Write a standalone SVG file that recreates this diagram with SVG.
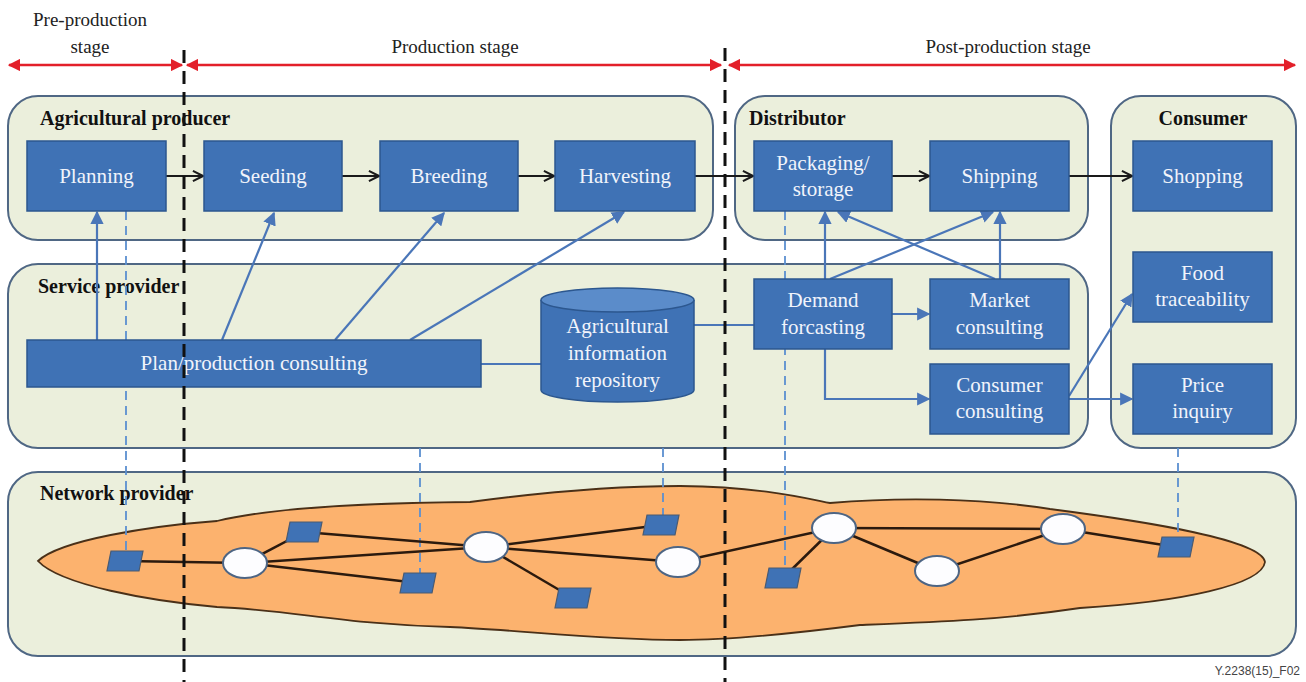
<svg xmlns="http://www.w3.org/2000/svg" width="1306" height="682" viewBox="0 0 1306 682">
  <style>
    .lane { fill: #ebefdc; stroke: #4f6784; stroke-width: 2; }
    .lane-title { font-family: 'Liberation Serif', 'DejaVu Serif', serif; font-size: 20px; font-weight: bold; fill: #111; }
    .box { fill: #3f72b5; stroke: #2c578f; stroke-width: 1.5; }
    .box-text { font-family: 'Times New Roman', 'Liberation Serif', Times, 'Nimbus Roman', 'FreeSerif', serif; font-size: 21px; fill: #f1f4fb; text-anchor: middle; }
    .stage-text { font-family: 'Times New Roman', 'Liberation Serif', Times, 'Nimbus Roman', 'FreeSerif', serif; font-size: 19px; fill: #222; text-anchor: middle; }
    .flow { stroke: #1a1a1a; stroke-width: 1.8; fill: none; marker-end: url(#arrowBlack); }
    .svc { stroke: #4a76b8; stroke-width: 2.2; fill: none; }
    .svc-arrow { marker-end: url(#arrowBlue); }
    .stage { stroke: #e3202a; stroke-width: 2.5; fill: none; marker-start: url(#arrowRed); marker-end: url(#arrowRed); }
    .divider { stroke: #111; stroke-width: 3; stroke-dasharray: 13 8; fill: none; }
    .tap { stroke: #5b8fd0; stroke-width: 1.8; stroke-dasharray: 9 6; fill: none; }
    .link { stroke: #2b1a0e; stroke-width: 2.5; fill: none; }
    .router { fill: #fdfdff; stroke: #4d6584; stroke-width: 2; }
    .host { fill: #3f72b5; stroke: #4a5a70; stroke-width: 1.2; }
  </style>
  <defs>
    <marker id="arrowRed" viewBox="0 0 10 10" refX="9" refY="5" markerWidth="5" markerHeight="5" orient="auto-start-reverse">
      <path d="M0,0 L10,5 L0,10 z" fill="#e3202a"/>
    </marker>
    <marker id="arrowBlue" viewBox="0 0 10 10" refX="9" refY="5" markerWidth="6" markerHeight="6" orient="auto">
      <path d="M0,0 L10,5 L0,10 z" fill="#4a76b8"/>
    </marker>
    <marker id="arrowBlack" viewBox="0 0 10 10" refX="9" refY="5" markerWidth="7" markerHeight="7" orient="auto">
      <path d="M1,1 L9,5 L1,9" fill="none" stroke="#1a1a1a" stroke-width="1.6"/>
    </marker>
  </defs>

  <rect width="1306" height="682" fill="#ffffff"/>

  <!-- stage bar -->
  <g id="stages">
    <text class="stage-text" x="90" y="26">Pre-production</text>
    <text class="stage-text" x="90" y="53">stage</text>
    <text class="stage-text" x="455" y="53">Production stage</text>
    <text class="stage-text" x="1008" y="53">Post-production stage</text>
    <line class="stage" x1="9" y1="65" x2="182" y2="65"/>
    <line class="stage" x1="187" y1="65" x2="721" y2="65"/>
    <line class="stage" x1="729" y1="65" x2="1295" y2="65"/>
  </g>

  <!-- swimlanes -->
  <g id="lane-producer">
    <rect class="lane" x="8" y="96" width="705" height="144" rx="30"/>
    <text class="lane-title" x="40" y="125">Agricultural producer</text>
  </g>
  <g id="lane-distributor">
    <rect class="lane" x="735" y="96" width="353" height="144" rx="30"/>
    <text class="lane-title" x="749" y="125">Distributor</text>
  </g>
  <g id="lane-consumer">
    <rect class="lane" x="1111" y="96" width="185" height="352" rx="30"/>
    <text class="lane-title" x="1203" y="125" text-anchor="middle">Consumer</text>
  </g>
  <g id="lane-service">
    <rect class="lane" x="8" y="264" width="1080" height="184" rx="30"/>
    <text class="lane-title" x="38" y="293">Service provider</text>
  </g>
  <g id="lane-network">
    <rect class="lane" x="8" y="472" width="1288" height="184" rx="30"/>
    <text class="lane-title" x="40" y="500">Network provider</text>
  </g>

  <!-- network cloud -->
  <g id="network-cloud">
    <path d="M38,561 C60,540 150,526 217,521 C270,508 360,503 470,502 C560,490 620,486 680,486 C760,487 800,497 830,503 C900,497 980,498 1050,509 C1150,522 1262,540 1265,562 C1262,585 1180,602 1080,608 C1000,620 940,622 860,625 C790,634 730,640 680,640 C600,640 520,630 450,627 C350,625 290,610 217,607 C150,601 60,585 38,561 Z" fill="#fcb26e" stroke="#4a3018" stroke-width="1.8"/>
  </g>

  <!-- connectors -->
  <g id="connectors">
    <!-- access taps from services down to the network -->
    <line class="tap" x1="126" y1="211" x2="126" y2="552"/>
    <line class="tap" x1="420" y1="448" x2="420" y2="574"/>
    <line class="tap" x1="663" y1="448" x2="663" y2="516"/>
    <line class="tap" x1="785" y1="211" x2="785" y2="569"/>
    <line class="tap" x1="1178" y1="448" x2="1178" y2="538"/>

    <!-- network links -->
    <line class="link" x1="125" y1="561" x2="245" y2="563"/>
    <line class="link" x1="245" y1="563" x2="304" y2="532"/>
    <line class="link" x1="245" y1="563" x2="486" y2="547"/>
    <line class="link" x1="245" y1="563" x2="418" y2="583"/>
    <line class="link" x1="304" y1="532" x2="486" y2="547"/>
    <line class="link" x1="486" y1="547" x2="661" y2="525"/>
    <line class="link" x1="486" y1="547" x2="678" y2="562"/>
    <line class="link" x1="486" y1="547" x2="573" y2="598"/>
    <line class="link" x1="678" y1="562" x2="834" y2="528"/>
    <line class="link" x1="834" y1="528" x2="783" y2="578"/>
    <line class="link" x1="834" y1="528" x2="1063" y2="529"/>
    <line class="link" x1="834" y1="528" x2="937" y2="571"/>
    <line class="link" x1="937" y1="571" x2="1063" y2="529"/>
    <line class="link" x1="1063" y1="529" x2="1176" y2="547"/>

    <!-- value chain flow -->
    <line class="flow" x1="166" y1="176" x2="203" y2="176"/>
    <line class="flow" x1="342" y1="176" x2="379" y2="176"/>
    <line class="flow" x1="518" y1="176" x2="554" y2="176"/>
    <line class="flow" x1="695" y1="176" x2="753" y2="176"/>
    <line class="flow" x1="892" y1="176" x2="929" y2="176"/>
    <line class="flow" x1="1069" y1="176" x2="1132" y2="176"/>

    <!-- service support -->
    <line class="svc svc-arrow" x1="97" y1="340" x2="97" y2="212"/>
    <line class="svc svc-arrow" x1="222" y1="340" x2="274" y2="213"/>
    <line class="svc svc-arrow" x1="335" y1="340" x2="444" y2="213"/>
    <line class="svc svc-arrow" x1="410" y1="340" x2="624" y2="212"/>
    <line class="svc" x1="481" y1="364" x2="541" y2="364"/>
    <line class="svc" x1="694" y1="325" x2="754" y2="325"/>
    <line class="svc svc-arrow" x1="825" y1="279" x2="825" y2="212"/>
    <line class="svc svc-arrow" x1="830" y1="279" x2="993" y2="212"/>
    <line class="svc svc-arrow" x1="995" y1="279" x2="838" y2="212"/>
    <line class="svc svc-arrow" x1="1000" y1="279" x2="1000" y2="212"/>
    <line class="svc svc-arrow" x1="892" y1="314" x2="929" y2="314"/>
    <polyline class="svc svc-arrow" points="825,349 825,399 929,399"/>
    <line class="svc svc-arrow" x1="1069" y1="396" x2="1132" y2="294"/>
    <line class="svc svc-arrow" x1="1069" y1="399" x2="1132" y2="399"/>
  </g>

  <!-- producer activities -->
  <g id="planning">
    <rect class="box" x="27" y="141" width="139" height="70"/>
    <text class="box-text" x="96.5" y="183">Planning</text>
  </g>
  <g id="seeding">
    <rect class="box" x="204" y="141" width="138" height="70"/>
    <text class="box-text" x="273" y="183">Seeding</text>
  </g>
  <g id="breeding">
    <rect class="box" x="380" y="141" width="138" height="70"/>
    <text class="box-text" x="449" y="183">Breeding</text>
  </g>
  <g id="harvesting">
    <rect class="box" x="555" y="141" width="140" height="70"/>
    <text class="box-text" x="625" y="183">Harvesting</text>
  </g>

  <!-- distributor activities -->
  <g id="packaging-storage">
    <rect class="box" x="754" y="141" width="138" height="70"/>
    <text class="box-text" x="823" y="170">Packaging/</text>
    <text class="box-text" x="823" y="196">storage</text>
  </g>
  <g id="shipping">
    <rect class="box" x="930" y="141" width="139" height="70"/>
    <text class="box-text" x="999.5" y="183">Shipping</text>
  </g>

  <!-- consumer activities -->
  <g id="shopping">
    <rect class="box" x="1133" y="141" width="139" height="70"/>
    <text class="box-text" x="1202.5" y="183">Shopping</text>
  </g>
  <g id="food-traceability">
    <rect class="box" x="1133" y="252" width="139" height="70"/>
    <text class="box-text" x="1202.5" y="280">Food</text>
    <text class="box-text" x="1202.5" y="306">traceability</text>
  </g>
  <g id="price-inquiry">
    <rect class="box" x="1133" y="364" width="139" height="70"/>
    <text class="box-text" x="1202.5" y="392">Price</text>
    <text class="box-text" x="1202.5" y="418">inquiry</text>
  </g>

  <!-- service provider functions -->
  <g id="plan-production-consulting">
    <rect class="box" x="27" y="340" width="454" height="47"/>
    <text class="box-text" x="254" y="370">Plan/production consulting</text>
  </g>
  <g id="agri-info-repository">
    <path d="M541,300 L541,390 A76.5,12 0 0 0 694,390 L694,300" fill="#3f72b5" stroke="#2c578f" stroke-width="1.5"/>
    <ellipse cx="617.5" cy="300" rx="76.5" ry="12" fill="#5b8cca" stroke="#2c578f" stroke-width="1.5"/>
    <text class="box-text" x="617.5" y="333">Agricultural</text>
    <text class="box-text" x="617.5" y="360">information</text>
    <text class="box-text" x="617.5" y="387">repository</text>
  </g>
  <g id="demand-forcasting">
    <rect class="box" x="754" y="279" width="138" height="70"/>
    <text class="box-text" x="823" y="307">Demand</text>
    <text class="box-text" x="823" y="334">forcasting</text>
  </g>
  <g id="market-consulting">
    <rect class="box" x="930" y="279" width="139" height="70"/>
    <text class="box-text" x="999.5" y="307">Market</text>
    <text class="box-text" x="999.5" y="334">consulting</text>
  </g>
  <g id="consumer-consulting">
    <rect class="box" x="930" y="364" width="139" height="70"/>
    <text class="box-text" x="999.5" y="392">Consumer</text>
    <text class="box-text" x="999.5" y="418">consulting</text>
  </g>

  <!-- network elements -->
  <g id="routers">
    <ellipse class="router" cx="245" cy="563" rx="22" ry="15"/>
    <ellipse class="router" cx="486" cy="547" rx="22" ry="15"/>
    <ellipse class="router" cx="678" cy="562" rx="22" ry="15"/>
    <ellipse class="router" cx="834" cy="528" rx="22" ry="15"/>
    <ellipse class="router" cx="937" cy="571" rx="22" ry="15"/>
    <ellipse class="router" cx="1063" cy="529" rx="22" ry="15"/>
  </g>
  <g id="hosts">
    <polygon class="host" points="111,551 143,551 139,571 107,571"/>
    <polygon class="host" points="290,522 322,522 318,542 286,542"/>
    <polygon class="host" points="404,573 436,573 432,593 400,593"/>
    <polygon class="host" points="559,588 591,588 587,608 555,608"/>
    <polygon class="host" points="647,515 679,515 675,535 643,535"/>
    <polygon class="host" points="769,568 801,568 797,588 765,588"/>
    <polygon class="host" points="1162,537 1194,537 1190,557 1158,557"/>
  </g>

  <!-- stage boundaries -->
  <g id="stage-dividers">
    <line class="divider" x1="184" y1="50" x2="184" y2="682"/>
    <line class="divider" x1="725" y1="48" x2="725" y2="682"/>
  </g>

  <text x="1300" y="675" font-family="'Liberation Sans', Arial, sans-serif" font-size="12" fill="#444" text-anchor="end">Y.2238(15)_F02</text>
</svg>
